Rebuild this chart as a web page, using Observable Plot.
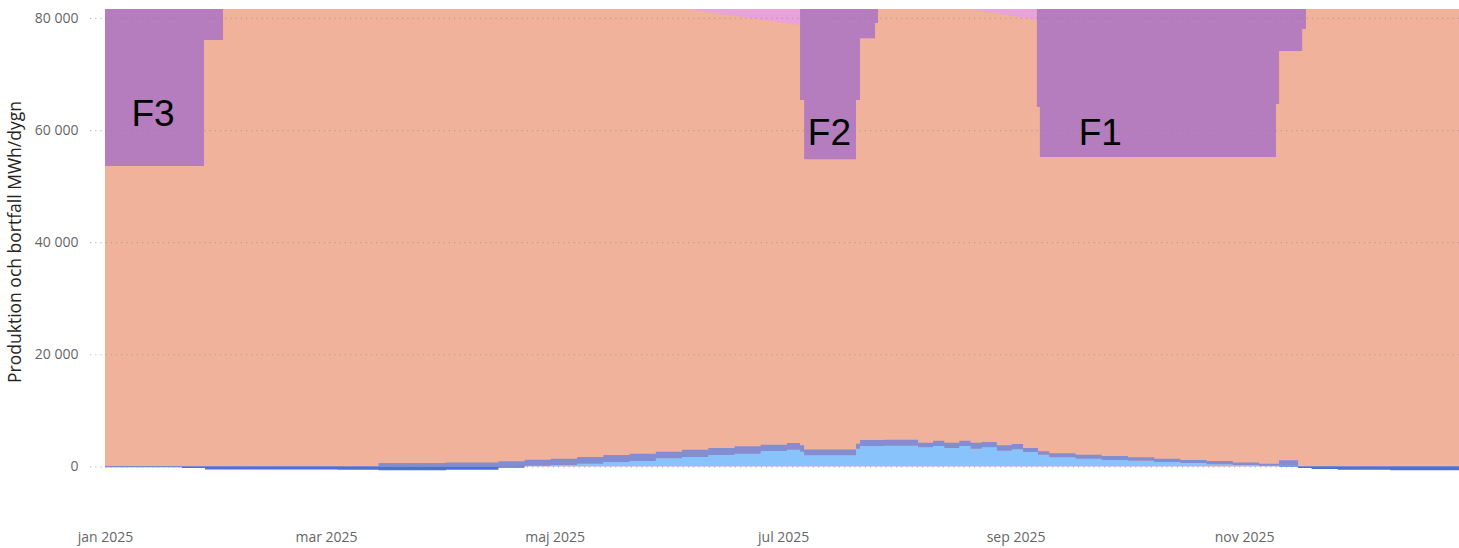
<!DOCTYPE html>
<html><head><meta charset="utf-8">
<script src="https://cdn.jsdelivr.net/npm/d3@7"></script>
<script src="https://cdn.jsdelivr.net/npm/@observablehq/plot@0.6"></script>
<style>
html,body{margin:0;padding:0;background:#fff;}
#chart{width:1459px;height:548px;}
</style></head><body><div id="chart"></div>
<script>
// ---------- data ----------
const yTicks = [0, 20000, 40000, 60000, 80000];
const xTickDates = ["2025-01-01", "2025-03-01", "2025-05-01", "2025-07-01", "2025-09-01", "2025-11-01"];
const xTickLabels = ["jan 2025", "mar 2025", "maj 2025", "jul 2025", "sep 2025", "nov 2025"];

const capacity = 81600; // total installed (top of the stack)

// production (salmon) top, linear between points
const productionDates = ["2025-01-01", "2025-06-05", "2025-07-05T12:00", "2025-07-05T12:00", "2025-08-20", "2025-09-06T17:00", "2025-09-06T17:00", "2025-12-31"];
const productionTop   = [81600, 81600, 78750, 81600, 81600, 79640, 81600, 81600];

// outages (purple), step series: bottom of outage block up to capacity
const f3Dates  = ["2025-01-01", "2025-01-27T10:00", "2025-02-01T12:00"];
const f3Bottom = [53570, 76070, 76070];
const f2Dates  = ["2025-07-05T12:00", "2025-07-06T14:00", "2025-07-20T10:00", "2025-07-21T12:00", "2025-07-25T12:00", "2025-07-26T07:00"];
const f2Bottom = [65360, 54800, 65360, 76400, 79100, 79100];
const f1Dates  = ["2025-09-06T17:00", "2025-09-07T12:00", "2025-11-09T12:00", "2025-11-10T08:00", "2025-11-16T12:00", "2025-11-17T12:00"];
const f1Bottom = [64100, 55200, 64640, 74100, 78040, 78040];

const outageLabels = ["F3", "F2", "F1"];
const outageLabelDates = ["2025-01-13T17:00", "2025-07-13T05:00", "2025-09-23T12:00"];
const outageLabelValues = [63000, 59500, 59500];

// bottom series, step series
const bottomDates = ["2025-01-01", "2025-01-21T12:00", "2025-01-27T16:00", "2025-03-04", "2025-03-15", "2025-04-02", "2025-04-16", "2025-04-23", "2025-04-30",
  "2025-05-07", "2025-05-14", "2025-05-21", "2025-05-28", "2025-06-04", "2025-06-11", "2025-06-18", "2025-06-25", "2025-07-02", "2025-07-05T12:00",
  "2025-07-06T14:00", "2025-07-20T10:00", "2025-07-21T12:00", "2025-07-28", "2025-08-06", "2025-08-10", "2025-08-13", "2025-08-17", "2025-08-20",
  "2025-08-23", "2025-08-27", "2025-08-31", "2025-09-03", "2025-09-07", "2025-09-10", "2025-09-17", "2025-09-24", "2025-10-01", "2025-10-08",
  "2025-10-15", "2025-10-22", "2025-10-29", "2025-11-05", "2025-11-10T08:00", "2025-11-15T10:00", "2025-11-19", "2025-11-26", "2025-12-10", "2025-12-31"];
const lightBlue = [0, 0, 0, 0, 0, 0, 0, 100, 230,
  480, 770, 950, 1430, 1660, 2020, 2270, 2740, 2980, 2600,
  2000, 3140, 3640, 3700, 3390, 3640, 3270, 3640, 3160,
  3390, 2800, 3040, 2560, 2090, 1610, 1370, 1130, 1020, 770,
  590, 360, 230, 120, 100, 0, 0, 0, 0, 0];
const midBand = [0, 0, 0, 0, 600, 700, 930, 1090, 1140,
  1180, 1250, 1320, 1190, 1320, 1250, 1300, 1130, 1180, 1150,
  1000, 910, 1060, 1050, 840, 950, 960, 950, 1070,
  950, 950, 950, 710, 590, 710, 710, 710, 590, 600,
  540, 590, 480, 360, 970, 0, 0, 0, 0, 0];
const negative = [-150, -300, -550, -600, -700, -600, -230, 0, 0,
  0, 0, 0, 0, 0, 0, 0, 0, 0, 0,
  0, 0, 0, 0, 0, 0, 0, 0, 0,
  0, 0, 0, 0, 0, 0, 0, 0, 0, 0,
  0, 0, 0, 0, -120, -300, -450, -590, -700, -700];

// ---------- build ----------
const parse = s => new Date(s.length === 10 ? s + "T00:00:00Z" : s + ":00Z");
const production = productionDates.map((d, i) => ({date: parse(d), top: productionTop[i]}));
const f3 = f3Dates.map((d, i) => ({date: parse(d), bottom: f3Bottom[i]}));
const f2 = f2Dates.map((d, i) => ({date: parse(d), bottom: f2Bottom[i]}));
const f1 = f1Dates.map((d, i) => ({date: parse(d), bottom: f1Bottom[i]}));
const bottom = bottomDates.map((d, i) => ({date: parse(d), light: lightBlue[i], band: midBand[i], neg: negative[i]}));
const labels = outageLabels.map((t, i) => ({text: t, date: parse(outageLabelDates[i]), value: outageLabelValues[i]}));
const tickDates = xTickDates.map(parse);

const C = {
  salmon: "#F1B29B", purple: "#B57CBE", pink: "#EAA2DA",
  light: "#88C4FB", band: "#828DD2", neg: "#4C70D6"
};
const fmt = d => d3.format(",")(d).replace(/,/g, "\u00a0");

const chart = Plot.plot({
  width: 1459, height: 548,
  marginLeft: 90, marginRight: 0, marginTop: 9, marginBottom: 48,
  style: {fontFamily: "'Segoe UI', 'Open Sans', sans-serif", background: "#fff", overflow: "visible"},
  x: {type: "utc", domain: [parse("2024-12-28"), parse("2025-12-28T08:24")]},
  y: {domain: [-6000, capacity]},
  marks: [
    Plot.areaY(production, {x: "date", y1: 0, y2: capacity, fill: C.pink, clip: true}),
    Plot.areaY(production, {x: "date", y1: 0, y2: "top", fill: C.salmon, curve: "linear", clip: true}),
    Plot.areaY(f3, {x: "date", y1: "bottom", y2: capacity, fill: C.purple, curve: "step-after", clip: true}),
    Plot.areaY(f2, {x: "date", y1: "bottom", y2: capacity, fill: C.purple, curve: "step-after", clip: true}),
    Plot.areaY(f1, {x: "date", y1: "bottom", y2: capacity, fill: C.purple, curve: "step-after", clip: true}),
    Plot.areaY(bottom, {x: "date", y1: 0, y2: "neg", fill: C.neg, curve: "step-after", clip: true}),
    Plot.areaY(bottom, {x: "date", y1: 0, y2: "light", fill: C.light, curve: "step-after", clip: true}),
    Plot.areaY(bottom, {x: "date", y1: "light", y2: d => d.light + d.band, fill: C.band, curve: "step-after", clip: true}),
    Plot.gridY(yTicks, {stroke: "#8a8a8a", strokeOpacity: 0.55, strokeDasharray: "1.2,4", strokeWidth: 1.2}),
    Plot.text(labels, {x: "date", y: "value", text: "text", fontSize: 37, fill: "#000", fontFamily: "'Liberation Sans', Arial, sans-serif"}),
    Plot.axisY({ticks: yTicks, tickFormat: fmt, tickSize: 0, tickPadding: 12, fontSize: 14, fill: "#666", label: null}),
    Plot.axisX({ticks: tickDates, tickFormat: d => xTickLabels[tickDates.findIndex(t => +t === +d)], tickSize: 0, tickPadding: 32, fontSize: 14, fill: "#666", label: null}),
    Plot.text(["Produktion och bortfall MWh/dygn"], {frameAnchor: "left", textAnchor: "middle", dx: -75, dy: -13, rotate: -90, fontSize: 17.5, fill: "#252423"})
  ]
});
document.getElementById("chart").appendChild(chart);
</script>
</body></html>
